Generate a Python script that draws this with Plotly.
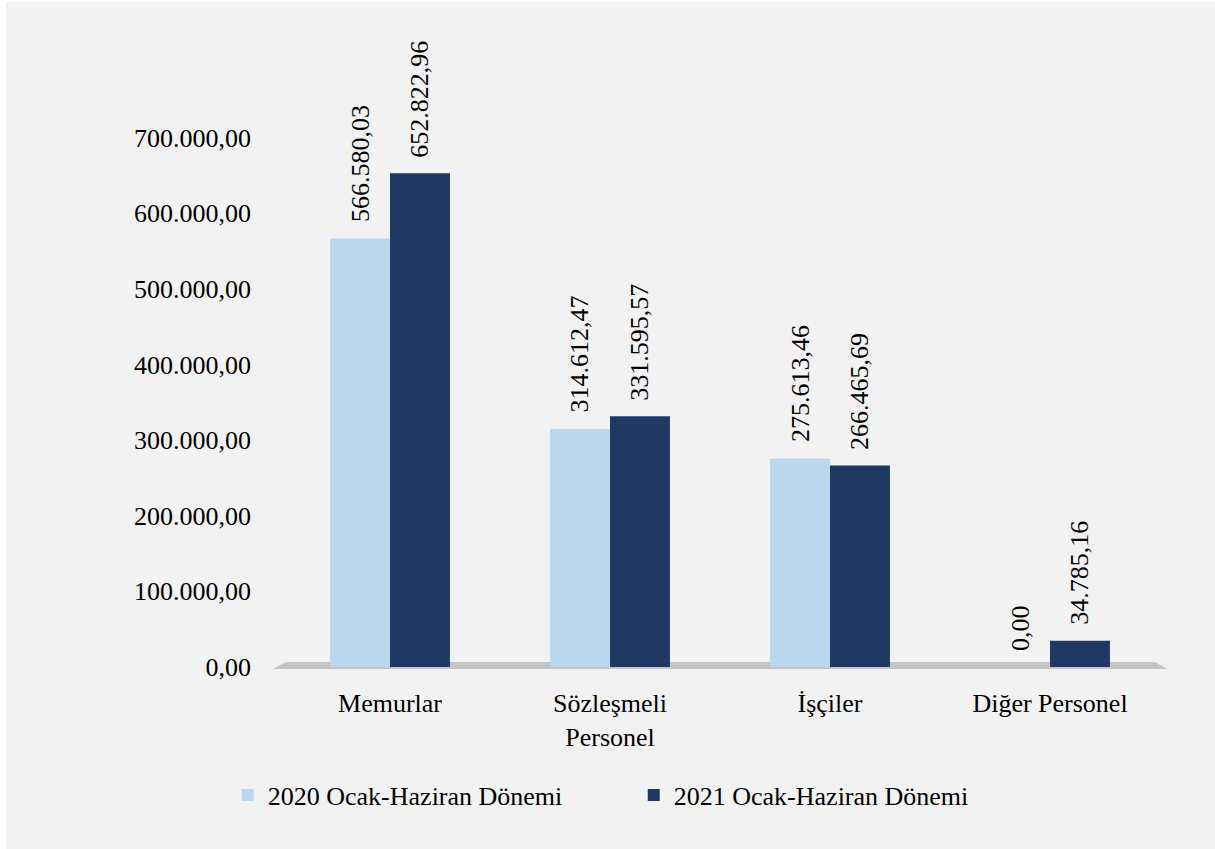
import plotly.graph_objects as go

categories = ["Memurlar", "Sözleşmeli<br>Personel", "İşçiler", "Diğer Personel"]
series_2020_name = "2020 Ocak-Haziran Dönemi"
series_2021_name = "2021 Ocak-Haziran Dönemi"
values_2020 = [566580.03, 314612.47, 275613.46, 0.00]
values_2021 = [652822.96, 331595.57, 266465.69, 34785.16]
tick_values = [0, 100000, 200000, 300000, 400000, 500000, 600000, 700000]

FONT = "Liberation Serif, Times New Roman, serif"
FS = 26
C2020 = "#bcd6ee"
C2021 = "#1f3864"
BARGAP = 0.455
OFF = (1 - BARGAP) / 4

fig = go.Figure()
fig.add_trace(go.Bar(name=series_2020_name, x=categories, y=values_2020,
                     marker=dict(color=C2020, line=dict(width=0))))
fig.add_trace(go.Bar(name=series_2021_name, x=categories, y=values_2021,
                     marker=dict(color=C2021, line=dict(width=0))))

annotations = []
for i, (a, b) in enumerate(zip(values_2020, values_2021)):
    for off, v in ((-OFF, a), (OFF, b)):
        txt = f"{v:,.2f}".replace(",", "X").replace(".", ",").replace("X", ".")
        annotations.append(dict(x=i + off, y=v, xref="x", yref="y", text=txt,
                                textangle=-90, showarrow=False, yanchor="bottom",
                                xanchor="center", yshift=14,
                                font=dict(family=FONT, size=FS, color="#000000")))

L, R, T, B = 280, 55, 62, 182
W, H = 1215, 849
pw, ph = W - L - R, H - T - B

def px(x):
    return (x - L) / pw

def py(y):
    return (H - B - y) / ph

shapes = [
    # white frame on the left and top
    dict(type="rect", xref="paper", yref="paper", x0=px(0), x1=px(6), y0=py(H), y1=py(0),
         fillcolor="white", line=dict(width=0), layer="below"),
    dict(type="rect", xref="paper", yref="paper", x0=px(0), x1=px(W), y0=py(2), y1=py(0),
         fillcolor="white", line=dict(width=0), layer="below"),
    # 3D floor
    dict(type="path", xref="paper", yref="paper",
         path=f"M {px(273)},{py(669)} L {px(286)},{py(662)} L {px(1155)},{py(662)} L {px(1167)},{py(669)} Z",
         fillcolor="#c4c4c4", line=dict(width=0), layer="below"),
]

fig.update_layout(
    width=W, height=H,
    margin=dict(l=L, r=R, t=T, b=B),
    paper_bgcolor="#f2f2f2",
    plot_bgcolor="rgba(0,0,0,0)",
    separators=",.",
    barmode="group",
    bargap=BARGAP,
    bargroupgap=0,
    font=dict(family=FONT, size=FS, color="#000000"),
    xaxis=dict(showgrid=False, showline=False, zeroline=False, ticks="",
               ticklabelstandoff=18, tickfont=dict(size=FS)),
    yaxis=dict(range=[0, 800000], tickvals=tick_values, tickformat=",.2f",
               showgrid=False, zeroline=False, showline=False, ticks="",
               ticklabelstandoff=28, tickfont=dict(size=FS)),
    legend=dict(orientation="h", x=0.402, xanchor="center", y=py(795), yanchor="middle",
                font=dict(size=FS), itemwidth=30, entrywidth=361, bgcolor="rgba(0,0,0,0)"),
    annotations=annotations,
    shapes=shapes,
    showlegend=True,
    hovermode=False,
)

fig.write_html("out.html", config={"displayModeBar": False},
               post_script="document.body.style.margin='0px';document.body.style.padding='0px';")
